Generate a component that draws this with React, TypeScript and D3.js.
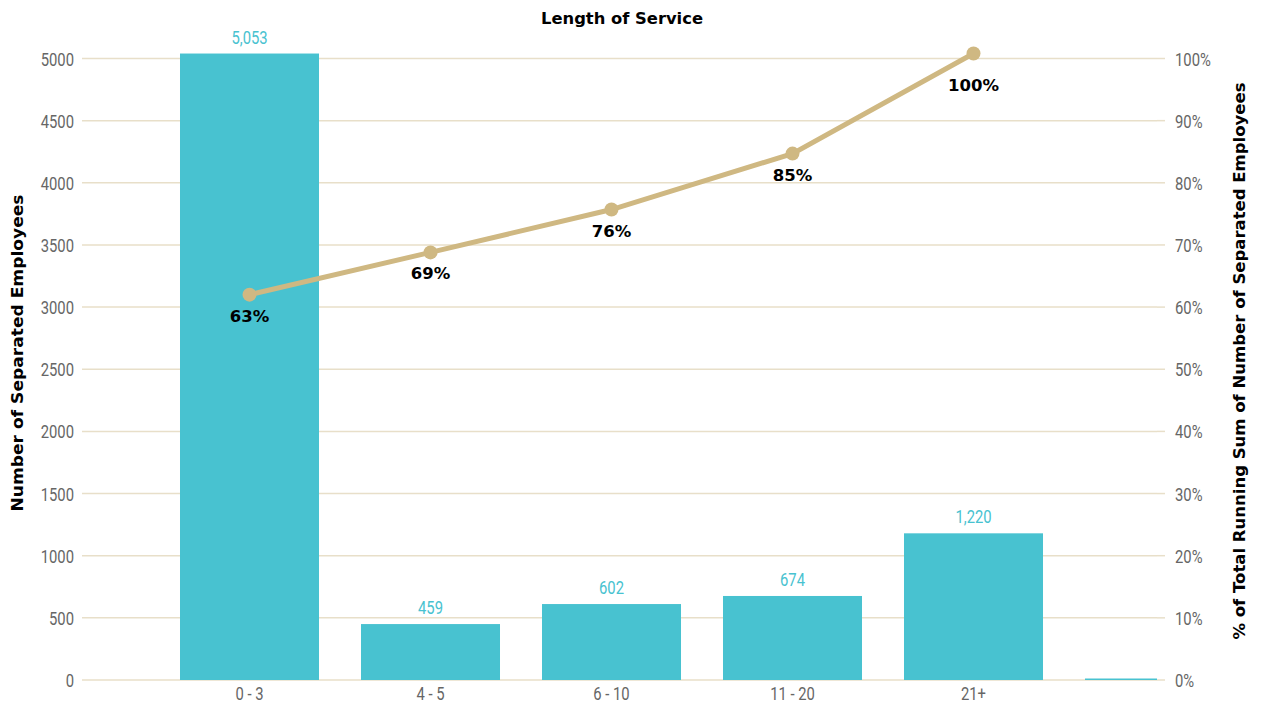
import React from "react";
import * as d3 from "d3";

const categories = ["0 - 3", "4 - 5", "6 - 10", "11 - 20", "21+", ""];
const counts = [5040, 450, 611, 676, 1180, 12];
const countLabels = ["5,053", "459", "602", "674", "1,220", ""];
const pctValues = [62.0, 68.8, 75.7, 84.7, 100.8];
const pctLabels = ["63%", "69%", "76%", "85%", "100%"];
const leftTicks = [0, 500, 1000, 1500, 2000, 2500, 3000, 3500, 4000, 4500, 5000];
const rightTicks = [0, 10, 20, 30, 40, 50, 60, 70, 80, 90, 100];

const W = 1262;
const H = 706;
const plotL = 82;
const plotR = 1157;
const y0 = 680;
const yTop = 58.5;

function CText(props: { x: number; y: number; anchor: string; fill: string; children: React.ReactNode }) {
  return (
    <text transform={`translate(${props.x},${props.y}) scale(0.8,1)`} textAnchor={props.anchor} fontFamily="Roboto" fontSize={18.5} fill={props.fill}>
      {props.children}
    </text>
  );
}

export default function App() {
  const x = d3.scaleBand<string>().domain(categories.map((c, i) => String(i))).range([159, 1245]).paddingInner(0.232).paddingOuter(0.116);
  const y = d3.scaleLinear().domain([0, 5000]).range([y0, yTop]);
  const yr = d3.scaleLinear().domain([0, 100]).range([y0, yTop]);
  const cx = (i: number) => (x(String(i)) as number) + x.bandwidth() / 2;
  const line = d3.line<number>().x((_, i) => cx(i)).y((d) => yr(d));
  const cyan = "#48c2d0";
  const tan = "#cfb882";
  const grid = "#e8dfc9";
  const gray = "#666";
  const bold = "DejaVu Sans, Liberation Sans, Arial";
  return (
    <svg width={W} height={H} style={{ position: "absolute", left: 0, top: 0, background: "#fff" }}>
      <defs>
        <clipPath id="plot">
          <rect x={plotL} y={0} width={plotR - plotL} height={H} />
        </clipPath>
      </defs>
      <text x={622} y={24} textAnchor="middle" fontFamily={bold} fontWeight="bold" fontSize={15} fill="#000" textLength={162} lengthAdjust="spacingAndGlyphs">Length of Service</text>
      {leftTicks.map((t) => (
        <g key={t}>
          <line x1={plotL} x2={plotR} y1={y(t)} y2={y(t)} stroke={grid} strokeWidth={1.5} />
          <line x1={plotR} x2={plotR + 8} y1={y(t)} y2={y(t)} stroke={grid} strokeWidth={1.5} />
          <CText x={74} y={y(t) + 7} anchor="end" fill={gray}>{t}</CText>
        </g>
      ))}
      {rightTicks.map((t) => (
        <CText key={t} x={1175} y={yr(t) + 7} anchor="start" fill={gray}>{t + "%"}</CText>
      ))}
      <g clipPath="url(#plot)">
        {counts.map((v, i) => (
          <rect key={i} x={x(String(i))} y={y(v)} width={x.bandwidth()} height={y0 - y(v)} fill={cyan} />
        ))}
      </g>
      {counts.map((v, i) => (
        <CText key={i} x={cx(i)} y={y(v) - 10} anchor="middle" fill={cyan}>{countLabels[i]}</CText>
      ))}
      {categories.map((c, i) => (
        <CText key={i} x={cx(i)} y={700} anchor="middle" fill={gray}>{c}</CText>
      ))}
      <path d={line(pctValues) || ""} fill="none" stroke={tan} strokeWidth={5} />
      {pctValues.map((v, i) => (
        <g key={i}>
          <circle cx={cx(i)} cy={yr(v)} r={7} fill={tan} />
          <text x={cx(i)} y={yr(v) + (i === pctValues.length - 1 ? 37 : 27)} textAnchor="middle" fontFamily={bold} fontWeight="bold" fontSize={16.5} fill="#000">{pctLabels[i]}</text>
        </g>
      ))}
      <text transform={`translate(23, 353) rotate(-90)`} textAnchor="middle" fontFamily={bold} fontWeight="bold" fontSize={15.5} fill="#000" textLength={317} lengthAdjust="spacingAndGlyphs">Number of Separated Employees</text>
      <text transform={`translate(1245, 361) rotate(-90)`} textAnchor="middle" fontFamily={bold} fontWeight="bold" fontSize={15.5} fill="#000" textLength={557} lengthAdjust="spacingAndGlyphs">% of Total Running Sum of Number of Separated Employees</text>
    </svg>
  );
}
